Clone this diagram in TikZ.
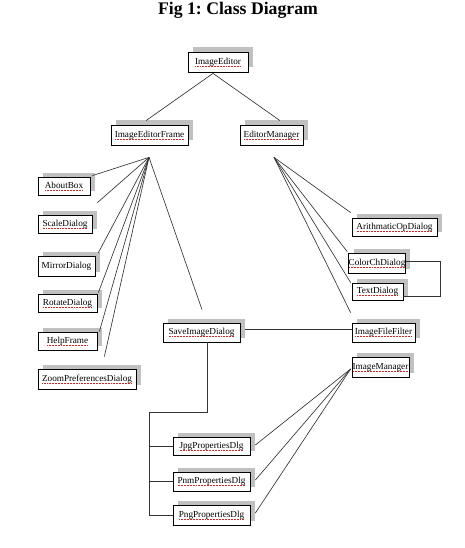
\documentclass[tikz,border=0pt]{standalone}
\usepackage{fontspec}
\setmainfont{Liberation Serif}
\usetikzlibrary{shadows,calc}
\definecolor{shadowgray}{RGB}{192,192,192}
\definecolor{squig}{RGB}{205,40,40}
\newcommand\spell[1]{\setbox0=\hbox{#1}\rlap{\color{squig}\raisebox{-2pt}{\hbox to \wd0{\xleaders\hbox to 1.5pt{\hss\rule{0.8pt}{0.5pt}\hss}\hfill}}}\box0}
\newcommand\cls[6]{\node[box, minimum width={#4-#2}, minimum height={#5-#3}] (#1) at ({(#2+#4)/2},{(#3+#5)/2}) {#6};}
\frenchspacing
\begin{document}
\begin{tikzpicture}[x=1pt,y=-1pt,
  box/.style={draw, line width=0.75pt, fill=white, inner sep=0pt, font=\fontsize{9.2}{10}\selectfont,
    drop shadow={fill=shadowgray, opacity=1, shadow xshift=5pt, shadow yshift=4.5pt}},
  conn/.style={line width=0.65pt, draw=black!80},
  title/.style={font=\fontsize{17.7}{20}\selectfont\bfseries, anchor=base, inner sep=0pt}]
\useasboundingbox (0,0) rectangle (465,548);
\node[title] (title) at (238,15) {Fig 1: Class Diagram};

\cls{ImageEditor}{188}{52}{248}{72}{\spell{ImageEditor}}
\cls{ImageEditorFrame}{111}{125}{188}{145}{\spell{ImageEditorFrame}}
\cls{EditorManager}{240}{125}{303}{145}{\spell{EditorManager}}
\cls{AboutBox}{38}{177}{90}{195}{\spell{AboutBox}}
\cls{ScaleDialog}{38}{215}{92}{233}{\spell{ScaleDialog}}
\cls{MirrorDialog}{38}{256}{95}{276}{MirrorDialog}
\cls{RotateDialog}{38}{294}{97}{312}{\spell{RotateDialog}}
\cls{HelpFrame}{38}{332}{97}{350}{\spell{HelpFrame}}
\cls{ZoomPreferencesDialog}{38}{369}{136}{389}{\spell{ZoomPreferencesDialog}}
\cls{SaveImageDialog}{163}{323}{240}{342}{\spell{SaveImageDialog}}
\cls{ArithmaticOpDialog}{352}{218}{437}{236}{\spell{ArithmaticOpDialog}}
\cls{ColorChDialog}{352}{253}{402}{273}{\spell{ColorChDialog}}
\cls{TextDialog}{352}{283}{403}{300}{\spell{TextDialog}}
\cls{ImageFileFilter}{352}{323}{415}{342}{\spell{ImageFileFilter}}
\cls{ImageManager}{352}{357}{409}{377}{\spell{ImageManager}}
\cls{JpgPropertiesDlg}{173}{437}{250}{455}{\spell{JpgPropertiesDlg}}
\cls{PnmPropertiesDlg}{173}{472}{250}{491}{\spell{PnmPropertiesDlg}}
\cls{PngPropertiesDlg}{173}{505}{250}{525}{\spell{PngPropertiesDlg}}

% ImageEditor to its two children
\coordinate (ieS) at ($(ImageEditor.south)+(-5,1)$);
\draw[conn] (ieS) -- ($(ImageEditorFrame.north)+(-3.5,-4)$);
\draw[conn] (ieS) -- ($(EditorManager.north)+(8.5,-4)$);

% fan from ImageEditorFrame
\coordinate (f1) at ($(ImageEditorFrame.south)+(-0.5,12)$);
\coordinate (eScale) at ($(ScaleDialog.north east)+(5,-12)$);
\coordinate (eZoom) at ($(ZoomPreferencesDialog.north east)+(-32,-12)$);
\coordinate (eSave) at ($(SaveImageDialog.north)+(0.5,-13)$);
\draw[conn] (f1) -- ($(AboutBox.north east)+(2,-1)$);
\draw[conn] (f1) -- (eScale);
\draw[conn] (f1) -- ($(MirrorDialog.north east)+(3,-3)$);
\draw[conn] (f1) -- ($(RotateDialog.north east)+(1,-1)$);
\draw[conn] (f1) -- ($(HelpFrame.north east)+(2,0)$);
\draw[conn] (f1) -- (eZoom);
\draw[conn] (f1) -- (eSave);

% fan from EditorManager
\coordinate (f2) at ($(EditorManager.south)+(2.5,12)$);
\draw[conn] (f2) -- ($(ArithmaticOpDialog.north west)+(-1,-5)$);
\draw[conn] (f2) -- ($(ColorChDialog.north west)+(-1,-1)$);
\draw[conn] (f2) -- ($(TextDialog.north west)+(-1,0)$);
\draw[conn] (f2) -- ($(ImageFileFilter.north west)+(-1,-10)$);

% ColorChDialog -- TextDialog bracket
\draw[conn] ($(ColorChDialog.east)+(0,-1.5)$) -- ++(35,0) |- ($(TextDialog.east)+(0,4.5)$);

% SaveImageDialog -- ImageFileFilter
\draw[conn] ($(SaveImageDialog.east)+(5,-3.5)$) -- ($(ImageFileFilter.west)+(0,-3.5)$);

% SaveImageDialog tree
\coordinate (trunk) at ($(PngPropertiesDlg.west)+(-23,0)$);
\draw[conn] ($(SaveImageDialog.south)+(5.5,0)$) -- ++(0,70) -| (trunk) -- (PngPropertiesDlg.west);
\draw[conn] (JpgPropertiesDlg.west -| trunk) -- (JpgPropertiesDlg.west);
\draw[conn] (PnmPropertiesDlg.west -| trunk) -- (PnmPropertiesDlg.west);

% fan from ImageManager
\coordinate (f3) at ($(ImageManager.west)+(-1,2)$);
\draw[conn] (f3) -- ($(JpgPropertiesDlg.east)+(5,-1)$);
\draw[conn] (f3) -- ($(PnmPropertiesDlg.east)+(5,-1.5)$);
\draw[conn] (f3) -- ($(PngPropertiesDlg.east)+(5,-2)$);
\end{tikzpicture}
\end{document}
